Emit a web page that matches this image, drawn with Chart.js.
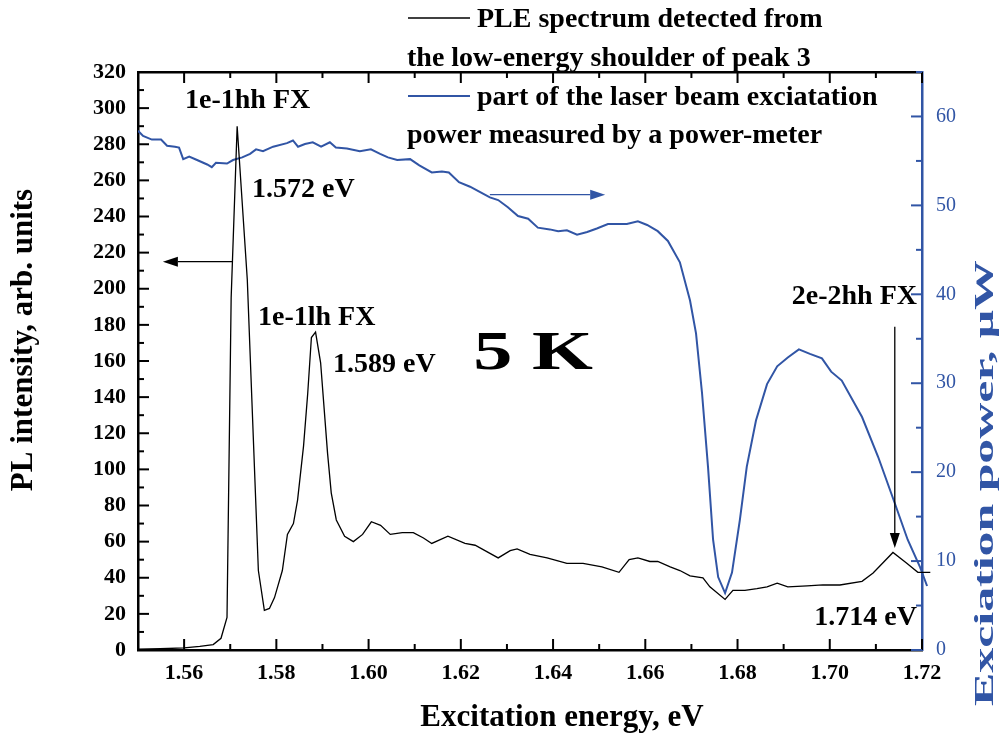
<!DOCTYPE html>
<html>
<head>
<meta charset="utf-8">
<script src="https://cdn.jsdelivr.net/npm/chart.js@4.4.0/dist/chart.umd.min.js"></script>
<style>
  html, body { margin: 0; padding: 0; background: #fff; }
</style>
</head>
<body>
<canvas id="ple-chart" width="1001" height="742"></canvas>
<script>
// PLE spectrum, left axis (arb. units) vs excitation energy (eV)
var pleEnergy = [1.5500, 1.5548, 1.5600, 1.5634, 1.5663, 1.5680, 1.5693, 1.5702, 1.5715, 1.5737,
  1.5761, 1.5774, 1.5785, 1.5796, 1.5813, 1.5824, 1.5837, 1.5846, 1.5859, 1.5868,
  1.5876, 1.5885, 1.5896, 1.5911, 1.5919, 1.5930, 1.5948, 1.5967, 1.5987, 1.6006,
  1.6026, 1.6047, 1.6073, 1.6097, 1.6119, 1.6137, 1.6172, 1.6209, 1.6231, 1.6281,
  1.6307, 1.6322, 1.6350, 1.6387, 1.6430, 1.6465, 1.6506, 1.6543, 1.6565, 1.6584,
  1.6610, 1.6627, 1.6654, 1.6675, 1.6697, 1.6725, 1.6740, 1.6773, 1.6790, 1.6816,
  1.6842, 1.6864, 1.6886, 1.6909, 1.6951, 1.6985, 1.7022, 1.7070, 1.7094, 1.7137,
  1.7167, 1.7191, 1.7218];
var pleIntensity = [0.5, 0.7, 1.2, 2, 3, 6.5, 18, 195, 290, 205,
  44, 22, 23, 29, 44, 64, 70, 83, 113, 142,
  173, 176, 159, 109, 87, 72, 63, 60, 64, 71,
  69, 64, 65, 65, 62, 59, 63, 59, 58, 51,
  55, 56, 53, 51, 48, 48, 46, 43, 50, 51,
  49, 49, 46, 44, 41, 40, 35, 28, 33, 33,
  34, 35, 37, 35, 35.5, 36, 36, 38, 42.6, 54,
  48, 43, 43];

// laser excitation power, right axis (uW)
var powerEnergy = [1.5500, 1.5511, 1.5530, 1.5550, 1.5563, 1.5580, 1.5589, 1.5598, 1.5611, 1.5628,
  1.5650, 1.5660, 1.5669, 1.5693, 1.5706, 1.5726, 1.5743, 1.5756, 1.5771, 1.5793,
  1.5823, 1.5836, 1.5847, 1.5862, 1.5879, 1.5897, 1.5916, 1.5929, 1.5953, 1.5981,
  1.6005, 1.6025, 1.6042, 1.6062, 1.6090, 1.6110, 1.6137, 1.6159, 1.6174, 1.6196,
  1.6220, 1.6242, 1.6263, 1.6281, 1.6302, 1.6324, 1.6346, 1.6367, 1.6393, 1.6411,
  1.6430, 1.6452, 1.6474, 1.6495, 1.6519, 1.6560, 1.6584, 1.6604, 1.6627, 1.6649,
  1.6675, 1.6697, 1.6710, 1.6723, 1.6736, 1.6747, 1.6758, 1.6773, 1.6788, 1.6805,
  1.6820, 1.6840, 1.6864, 1.6886, 1.6909, 1.6933, 1.6957, 1.6983, 1.7003, 1.7026,
  1.7070, 1.7105, 1.7141, 1.7169, 1.7196, 1.7211];
var powerValue = [58.4, 57.8, 57.4, 57.4, 56.7, 56.6, 56.5, 55.2, 55.5, 55.1,
  54.6, 54.3, 54.8, 54.7, 55.1, 55.4, 55.8, 56.3, 56.1, 56.6,
  57.0, 57.3, 56.6, 56.9, 57.1, 56.6, 57.1, 56.5, 56.4, 56.1,
  56.3, 55.8, 55.4, 55.1, 55.2, 54.5, 53.7, 53.8, 53.7, 52.6,
  52.1, 51.5, 50.9, 50.6, 49.8, 48.8, 48.5, 47.5, 47.3, 47.1,
  47.2, 46.7, 47.0, 47.4, 47.9, 47.9, 48.2, 47.8, 47.1, 46.0,
  43.6, 39.3, 35.6, 28.9, 20.6, 12.4, 8.2, 6.4, 8.7, 14.6,
  20.6, 25.8, 29.9, 31.9, 32.9, 33.8, 33.3, 32.8, 31.3, 30.3,
  26.2, 21.7, 16.5, 12.4, 9.3, 7.2];

// labelled (major) ticks
var energyTickLabels = ['1.56', '1.58', '1.60', '1.62', '1.64', '1.66', '1.68', '1.70', '1.72'];
var intensityTickLabels = ['0', '20', '40', '60', '80', '100', '120', '140', '160', '180', '200',
  '220', '240', '260', '280', '300', '320'];
var powerTickLabels = ['0', '10', '20', '30', '40', '50', '60'];

var SERIF = '"Liberation Serif", "Times New Roman", serif';
var BLUE = '#3155a5';

function energyLabel(v) { return v.toFixed(2); }
function intLabel(v) { return String(Math.round(v)); }

function toXY(xs, ys) {
  return xs.map(function (x, i) { return { x: x, y: ys[i] }; });
}

// inward tick marks, long for labelled ticks, short otherwise
var frameTicks = {
  id: 'frameTicks',
  afterDraw: function (chart) {
    var ctx = chart.ctx, a = chart.chartArea;
    var specs = [
      { id: 'x', side: 'bottom', labels: energyTickLabels, fmt: energyLabel, color: '#000' },
      { id: 'x2', side: 'top', labels: energyTickLabels, fmt: energyLabel, color: '#000' },
      { id: 'y', side: 'left', labels: intensityTickLabels, fmt: intLabel, color: '#000' },
      { id: 'y1', side: 'right', labels: powerTickLabels, fmt: intLabel, color: BLUE }
    ];
    ctx.save();
    ctx.lineWidth = 2;
    specs.forEach(function (s) {
      var scale = chart.scales[s.id];
      ctx.strokeStyle = s.color;
      scale.ticks.forEach(function (t) {
        var len = s.labels.indexOf(s.fmt(t.value)) >= 0 ? 11 : 6;
        var p = scale.getPixelForValue(t.value);
        ctx.beginPath();
        if (s.side === 'bottom') { ctx.moveTo(p, a.bottom); ctx.lineTo(p, a.bottom - len); }
        if (s.side === 'top') { ctx.moveTo(p, a.top); ctx.lineTo(p, a.top + len); }
        if (s.side === 'left') { ctx.moveTo(a.left, p); ctx.lineTo(a.left + len, p); }
        if (s.side === 'right') { ctx.moveTo(a.right, p); ctx.lineTo(a.right - len, p); }
        ctx.stroke();
      });
    });
    ctx.restore();
  }
};

function drawText(ctx, txt, x, y, opts) {
  ctx.save();
  ctx.translate(x, y);
  if (opts.rot) ctx.rotate(opts.rot);
  if (opts.sx) ctx.scale(opts.sx, 1);
  ctx.font = opts.font;
  ctx.fillStyle = opts.color || '#000';
  ctx.textAlign = opts.align || 'left';
  ctx.textBaseline = opts.baseline || 'alphabetic';
  ctx.fillText(txt, 0, 0);
  ctx.restore();
}

function arrow(ctx, x1, y1, x2, y2, color) {
  var ang = Math.atan2(y2 - y1, x2 - x1), hl = 15, hw = 5;
  ctx.save();
  ctx.strokeStyle = color;
  ctx.fillStyle = color;
  ctx.lineWidth = 1.3;
  ctx.beginPath();
  ctx.moveTo(x1, y1);
  ctx.lineTo(x2 - hl * Math.cos(ang), y2 - hl * Math.sin(ang));
  ctx.stroke();
  ctx.beginPath();
  ctx.moveTo(x2, y2);
  ctx.lineTo(x2 - hl * Math.cos(ang) + hw * Math.sin(ang), y2 - hl * Math.sin(ang) - hw * Math.cos(ang));
  ctx.lineTo(x2 - hl * Math.cos(ang) - hw * Math.sin(ang), y2 - hl * Math.sin(ang) + hw * Math.cos(ang));
  ctx.closePath();
  ctx.fill();
  ctx.restore();
}

// legend, titles, peak labels and arrows
var annotations = {
  id: 'annotations',
  afterDraw: function (chart) {
    var ctx = chart.ctx;
    var sx = chart.scales.x, sy = chart.scales.y, sp = chart.scales.y1;
    var bold28 = 'bold 28px ' + SERIF;

    // legend
    ctx.save();
    ctx.lineWidth = 1.3;
    ctx.strokeStyle = '#000';
    ctx.beginPath(); ctx.moveTo(408, 18); ctx.lineTo(470, 18); ctx.stroke();
    ctx.strokeStyle = BLUE;
    ctx.lineWidth = 2;
    ctx.beginPath(); ctx.moveTo(408, 96); ctx.lineTo(470, 96); ctx.stroke();
    ctx.restore();
    drawText(ctx, 'PLE spectrum detected from', 477, 27, { font: bold28 });
    drawText(ctx, 'the low-energy shoulder of peak 3', 407, 66, { font: bold28 });
    drawText(ctx, 'part of the laser beam exciatation', 477, 105, { font: bold28 });
    drawText(ctx, 'power measured by a power-meter', 407, 143, { font: bold28 });

    // axis titles
    drawText(ctx, 'Excitation energy, eV', 562, 718, { font: 'bold 31px ' + SERIF, align: 'center', baseline: 'middle' });
    drawText(ctx, 'PL intensity, arb. units', 24, 340, { font: 'bold 31px ' + SERIF, align: 'center', baseline: 'middle', rot: -Math.PI / 2 });
    drawText(ctx, 'Exciation power, \u03bcW', 986, 483, { font: 'bold 28px ' + SERIF, align: 'center', baseline: 'middle', rot: -Math.PI / 2, sx: 1.78, color: BLUE });

    // peak labels
    drawText(ctx, '1e-1hh FX', 185, 108, { font: bold28 });
    drawText(ctx, '1.572 eV', 252, 197, { font: bold28 });
    drawText(ctx, '1e-1lh FX', 258, 325, { font: bold28 });
    drawText(ctx, '1.589 eV', 333, 372, { font: bold28 });
    drawText(ctx, '2e-2hh FX', 917, 304, { font: bold28, align: 'right' });
    drawText(ctx, '1.714 eV', 917, 625, { font: bold28, align: 'right' });
    drawText(ctx, '5 K', 533, 355, { font: 'bold 54px ' + SERIF, align: 'center', baseline: 'middle', sx: 1.45 });

    // arrows pointing to the relevant axis / peak
    arrow(ctx, sx.getPixelForValue(1.5706), sy.getPixelForValue(215), sx.getPixelForValue(1.5554), sy.getPixelForValue(215), '#000');
    arrow(ctx, sx.getPixelForValue(1.6263), sp.getPixelForValue(51.2), sx.getPixelForValue(1.6513), sp.getPixelForValue(51.2), BLUE);
    arrow(ctx, sx.getPixelForValue(1.7141), sy.getPixelForValue(179), sx.getPixelForValue(1.7141), sy.getPixelForValue(56.5), '#000');
  }
};

var ctx = document.getElementById('ple-chart');

var chartData = {
  datasets: [{
    label: 'PLE spectrum',
    data: toXY(pleEnergy, pleIntensity),
    borderColor: '#000',
    borderWidth: 1.3,
    yAxisID: 'y',
    clip: { left: 0, top: 0, right: 12, bottom: 0 }
  }, {
    label: 'Excitation power',
    data: toXY(powerEnergy, powerValue),
    borderColor: BLUE,
    borderWidth: 2,
    yAxisID: 'y1',
    clip: { left: 0, top: 0, right: 12, bottom: 0 }
  }]
};

var tickFont = { family: SERIF, size: 22, weight: 'bold' };

var chartOptions = {
  responsive: false,
  animation: false,
  layout: { padding: { top: 72, left: 0, right: 0, bottom: 0 } },
  elements: { point: { radius: 0 }, line: { tension: 0 } },
  plugins: { legend: { display: false }, tooltip: { enabled: false } },
  scales: {
    x: {
      type: 'linear', position: 'bottom', min: 1.55, max: 1.72,
      grid: { display: false, drawTicks: false },
      border: { display: true, color: '#000', width: 2.5 },
      ticks: {
        stepSize: 0.01, autoSkip: false, maxRotation: 0, padding: 10,
        color: '#000', font: tickFont,
        callback: function (v) { var s = energyLabel(v); return energyTickLabels.indexOf(s) >= 0 ? s : ''; }
      },
      afterFit: function (scale) { scale.height = 92; }
    },
    x2: {
      type: 'linear', position: 'top', min: 1.55, max: 1.72,
      grid: { display: false, drawTicks: false },
      border: { display: true, color: '#000', width: 2.5 },
      ticks: { stepSize: 0.01, autoSkip: false, display: false },
      afterFit: function (scale) { scale.height = 0; }
    },
    y: {
      type: 'linear', position: 'left', min: 0, max: 320,
      grid: { display: false, drawTicks: false },
      border: { display: true, color: '#000', width: 2.5 },
      ticks: {
        stepSize: 10, autoSkip: false, padding: 12, color: '#000', font: tickFont,
        callback: function (v) { var s = intLabel(v); return intensityTickLabels.indexOf(s) >= 0 ? s : ''; }
      },
      afterFit: function (scale) { scale.width = 138; }
    },
    y1: {
      type: 'linear', position: 'right', min: 0, max: 65,
      grid: { display: false, drawTicks: false },
      border: { display: true, color: BLUE, width: 2.5 },
      ticks: {
        stepSize: 5, autoSkip: false, padding: 14, color: BLUE,
        font: { family: SERIF, size: 20 },
        callback: function (v) { var s = intLabel(v); return powerTickLabels.indexOf(s) >= 0 ? s : ''; }
      },
      afterFit: function (scale) { scale.width = 79; }
    }
  }
};

var config = {
  type: 'line',
  data: chartData,
  options: chartOptions,
  plugins: [frameTicks, annotations]
};

var pleChart = new Chart(ctx, config);
</script>
</body>
</html>
